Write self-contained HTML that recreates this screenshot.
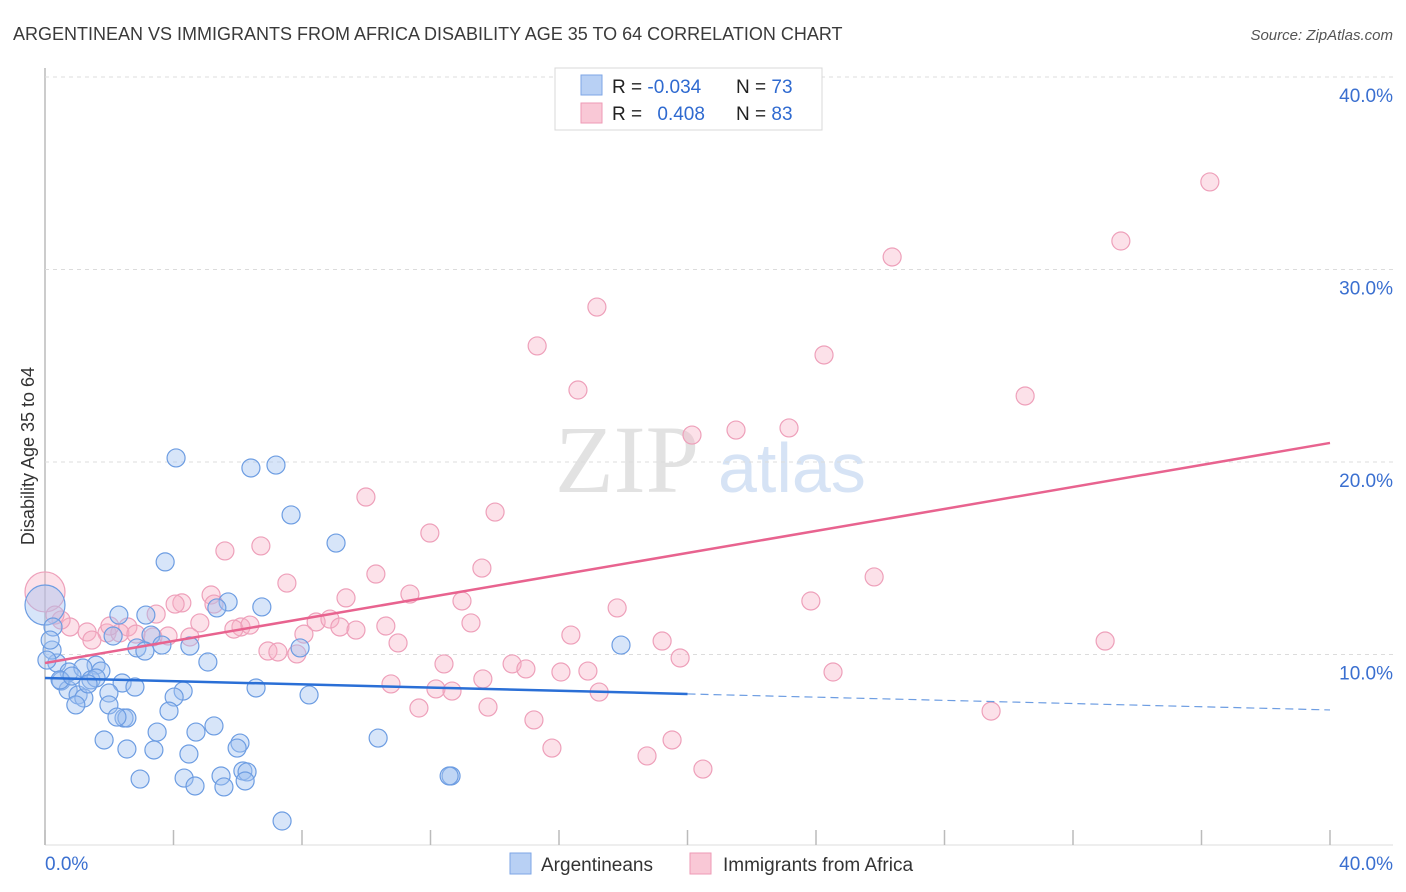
<!DOCTYPE html>
<html><head><meta charset="utf-8"><style>
body{margin:0;background:#fff;font-family:"Liberation Sans",sans-serif}
svg{display:block}
</style></head><body>
<svg id="chart" width="1406" height="892">
<text x="13" y="40" font-size="18" fill="#3a3a3a">ARGENTINEAN VS IMMIGRANTS FROM AFRICA DISABILITY AGE 35 TO 64 CORRELATION CHART</text>
<text x="1393" y="40" font-size="15" font-style="italic" fill="#555" text-anchor="end">Source: ZipAtlas.com</text>
<text x="555" y="492" font-size="96" font-family="Liberation Serif,serif" fill="#e2e2e2">ZIP</text>
<text x="718" y="492" font-size="70" fill="#d6e3f5">atlas</text>
<g id="grid"></g>
<g id="marks"></g>
<text transform="translate(34,456) rotate(-90)" font-size="18" fill="#333" text-anchor="middle">Disability Age 35 to 64</text>
<g>
<rect x="555" y="68" width="267" height="62" fill="#fff" stroke="#d8d8d8"/>
<rect x="581" y="75" width="21" height="20" fill="#b8d0f4" stroke="#7ea6e6"/>
<rect x="581" y="103" width="21" height="20" fill="#f9c8d6" stroke="#ee9ab5"/>
<text x="612" y="93" font-size="19" fill="#222">R = <tspan fill="#2f6ad0">-0.034</tspan></text>
<text x="736" y="93" font-size="19" fill="#222">N = <tspan fill="#2f6ad0">73</tspan></text>
<text x="612" y="120" font-size="19" fill="#222">R = <tspan fill="#2f6ad0" dx="10">0.408</tspan></text>
<text x="736" y="120" font-size="19" fill="#222">N = <tspan fill="#2f6ad0">83</tspan></text>
</g>
<g>
<rect x="510" y="853" width="21" height="21" fill="#b8d0f4" stroke="#7ea6e6"/>
<text x="541" y="871" font-size="19" fill="#333">Argentineans</text>
<rect x="690" y="853" width="21" height="21" fill="#f9c8d6" stroke="#ee9ab5"/>
<text x="723" y="871" font-size="19" fill="#333">Immigrants from Africa</text>
</g>
</svg>
<script>
const blueX=[0,4.08,6.41,7.19,7.66,9.06,3.74,5.70,5.35,6.75,2.30,3.14,3.30,2.12,2.86,3.11,4.51,3.64,7.94,17.93,5.07,1.59,0.37,0.22,0.75,1.18,1.74,0.50,1.43,1.59,2.40,2.80,4.30,4.02,0.72,1.03,1.21,1.99,6.57,8.22,1.99,0.96,3.86,2.46,2.55,2.24,5.26,3.49,4.70,1.84,2.55,3.39,6.07,5.98,4.48,10.37,2.96,4.33,5.48,6.16,6.29,4.67,5.57,6.23,7.38,12.64,12.58,0.25,0.16,0.06,0.47,0.84,1.34];
const blueY=[12.57,20.21,19.69,19.84,17.25,15.79,14.81,12.73,12.42,12.47,12.05,12.05,11.01,10.96,10.34,10.18,10.44,10.49,10.34,10.49,9.61,9.45,9.56,10.23,9.09,9.30,9.14,8.62,8.68,8.78,8.52,8.31,8.10,7.79,8.16,7.90,7.74,8.00,8.26,7.90,7.38,7.38,7.06,6.70,6.70,6.75,6.29,5.97,5.97,5.56,5.09,5.04,5.40,5.14,4.83,5.66,3.53,3.58,3.69,3.95,3.90,3.17,3.12,3.43,1.35,3.69,3.69,11.43,10.75,9.71,8.68,8.88,8.47];
const pinkX=[0,36.26,33.49,26.37,17.18,15.32,24.25,16.59,30.51,20.14,21.51,23.16,9.99,14.01,11.98,5.60,6.72,13.60,25.81,10.30,7.53,5.17,11.36,4.26,9.37,17.81,23.84,12.98,5.26,3.46,6.10,5.88,4.82,6.38,8.44,8.87,9.18,10.61,13.26,9.68,2.58,1.93,1.31,0.78,0.50,1.46,2.33,2.83,3.36,3.83,4.51,8.06,16.37,19.21,33.00,10.99,6.94,7.25,7.84,12.42,14.54,14.97,16.06,16.90,19.77,24.53,13.63,10.77,12.17,12.67,17.25,11.64,13.79,15.22,29.45,15.78,19.52,18.74,20.48,0.31,2.02,4.05];
const pinkY=[13.25,34.55,31.48,30.65,28.05,26.03,25.56,23.74,23.43,21.40,21.66,21.77,18.18,17.40,16.31,15.38,15.64,14.49,14.03,14.18,13.71,13.09,13.14,12.68,12.94,12.42,12.78,12.78,12.62,12.10,11.43,11.32,11.64,11.53,11.69,11.84,11.43,11.48,11.64,11.27,11.43,11.12,11.17,11.43,11.79,10.75,11.12,11.06,10.91,10.96,10.91,11.06,11.01,10.70,10.70,10.60,10.18,10.13,10.03,9.51,9.51,9.25,9.09,9.14,9.82,9.09,8.73,8.47,8.21,8.10,8.05,7.22,7.27,6.60,7.06,5.14,5.56,4.73,4.05,12.05,11.48,12.62];
const blueTrend=[8.78,7.12];
const pinkTrend=[9.56,20.99];
const yTicks=[10,20,30,40];
const yTickLabels=["10.0%","20.0%","30.0%","40.0%"];
const xTicks=[0,4,8,12,16,20,24,28,32,36,40];

const NS="http://www.w3.org/2000/svg";
const sx=v=>45+v*32.125;
const sy=v=>847-v*19.25;
function mk(tag,attrs,parent){const e=document.createElementNS(NS,tag);for(const k in attrs)e.setAttribute(k,attrs[k]);parent.appendChild(e);return e;}
const grid=document.getElementById('grid'),marks=document.getElementById('marks');

let ax=mk('line',{x1:45,y1:68,x2:45,y2:845,stroke:'#bbb','stroke-width':1.5},grid);


let bx=mk('line',{x1:45,y1:845,x2:1393,y2:845,stroke:'#ddd'},grid);


yTicks.forEach((t,i)=>{
  const g=mk('line',{x1:45,x2:1393,y1:sy(t),y2:sy(t),stroke:'#dcdcdc','stroke-dasharray':'4,4'},grid);
  
  
  const l=mk('text',{x:1393,y:sy(t)+25,'font-size':19,fill:'#3a6fd0','text-anchor':'end'},grid);
  l.textContent=yTickLabels[i];
  
  
});
xTicks.forEach(t=>{
  const k=mk('line',{x1:sx(t),x2:sx(t),y1:830,y2:845,stroke:'#bbb','stroke-width':1.5},grid);
  
  
});
let xl0=mk('text',{x:45,y:870,'font-size':19,fill:'#3a6fd0'},grid);xl0.textContent='0.0%';


let xl1=mk('text',{x:1393,y:870,'font-size':19,fill:'#3a6fd0','text-anchor':'end'},grid);xl1.textContent='40.0%';



function pts(X,Y,fill,stroke,name){
  X.forEach((x,i)=>{
    const c=mk('circle',{cx:sx(x),cy:sy(Y[i]),r:i===0?20:9,fill:fill,stroke:stroke,'stroke-width':1.2},marks);
    
    
  });
}
pts(pinkX,pinkY,'rgba(246,176,198,0.38)','#eea0ba','africa-point');
pts(blueX,blueY,'rgba(160,192,240,0.42)','#6d9de2','argentinean-point');

const bMid=blueTrend[0]+(blueTrend[1]-blueTrend[0])*0.5;
let t1=mk('line',{x1:sx(0),y1:sy(blueTrend[0]),x2:sx(20),y2:sy(bMid),stroke:'#2a6fd6','stroke-width':2.5},marks);


let t2=mk('line',{x1:sx(20),y1:sy(bMid),x2:sx(40),y2:sy(blueTrend[1]),stroke:'#6d9de2','stroke-width':1.2,'stroke-dasharray':'8,5'},marks);


let t3=mk('line',{x1:sx(0),y1:sy(pinkTrend[0]),x2:sx(40),y2:sy(pinkTrend[1]),stroke:'#e8638f','stroke-width':2.5},marks);


</script>
</body></html>
